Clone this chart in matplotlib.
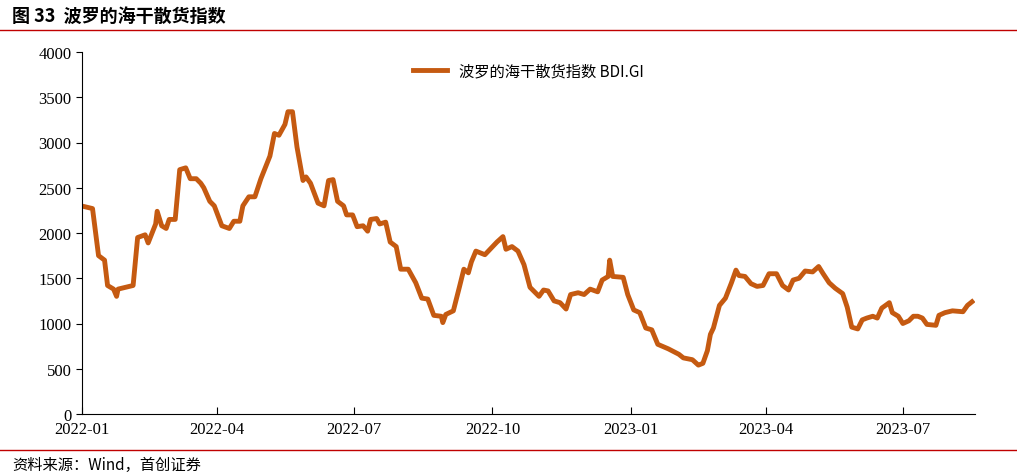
import matplotlib
matplotlib.use("Agg")
import matplotlib.pyplot as plt
import matplotlib.dates as mdates
import pandas as pd

# days since 2022-01-01 and BDI values
day_offsets = [2,7,11,15,17,21,23,24,34,37,42,44,49,50,53,56,58,62,65,69,72,76,79,81,85,88,93,98,101,105,107,111,115,119,125,128,131,135,137,140,143,147,149,152,157,161,164,167,170,174,176,180,183,187,190,192,196,198,202,205,209,212,217,222,226,230,234,239,240,242,247,251,254,257,259,262,268,276,280,282,286,290,294,298,304,307,310,314,318,322,325,330,334,338,343,346,350,351,353,360,363,367,371,375,379,383,390,397,400,406,410,413,416,418,420,424,428,432,435,437,441,445,449,453,457,462,466,470,473,477,481,486,490,493,497,501,506,509,512,516,519,522,526,529,532,537,539,543,546,550,553,556,559,562,568,570,574,579,586,589,592]
bdi = [2290,2270,1750,1700,1420,1380,1300,1380,1420,1950,1980,1890,2100,2240,2080,2050,2150,2150,2700,2720,2600,2600,2550,2500,2350,2300,2080,2050,2130,2130,2300,2400,2400,2600,2850,3100,3080,3200,3340,3340,2950,2580,2620,2550,2330,2300,2580,2590,2350,2300,2200,2200,2070,2080,2020,2150,2160,2100,2120,1900,1850,1600,1600,1450,1280,1270,1090,1080,1010,1100,1140,1400,1600,1560,1680,1800,1760,1900,1960,1820,1850,1800,1650,1400,1300,1370,1360,1250,1230,1160,1320,1340,1320,1380,1350,1480,1520,1700,1520,1510,1320,1150,1120,950,930,770,720,660,620,600,540,560,700,880,950,1200,1280,1450,1590,1530,1520,1440,1410,1420,1550,1550,1420,1370,1480,1500,1580,1570,1630,1550,1450,1390,1330,1180,960,940,1040,1060,1080,1060,1170,1230,1120,1080,1000,1030,1080,1080,1060,990,980,1090,1120,1140,1130,1200,1240]
tick_labels = ["2022-01","2022-04","2022-07","2022-10","2023-01","2023-04","2023-07"]
series_name = "波罗的海干散货指数 BDI.GI"

dates = pd.Timestamp("2022-01-01") + pd.to_timedelta(day_offsets, unit="D")
cjk = "Noto Sans CJK SC"
fig = plt.figure(figsize=(10.17, 4.77), dpi=100)
ax = fig.add_axes([82/1017, 1-415/477, (975-82)/1017, (415-53)/477])
ax.plot(dates, bdi, color="#C55A11", lw=3.5, label=series_name)
ax.set_ylim(0, 4000)
ax.set_yticks(range(0, 4001, 500))
ax.set_xlim(pd.Timestamp("2022-01-01"), dates[-1] + pd.Timedelta(days=2))
ax.set_xticks([pd.Timestamp(t + "-01") for t in tick_labels])
ax.set_xticklabels(tick_labels)
for s in ["top", "right"]:
    ax.spines[s].set_visible(False)
for lab in ax.get_xticklabels() + ax.get_yticklabels():
    lab.set_fontfamily("Liberation Serif"); lab.set_fontsize(12)
ax.tick_params(axis="x", direction="in", length=5, pad=5)
ax.tick_params(axis="y", direction="out", length=4)
leg = ax.legend(loc="upper center", frameon=False, prop={"family": cjk, "size": 11},
                bbox_to_anchor=(0.5, 1.01), handlelength=2.2)
fig.text(0.012, 0.965, "图 33  波罗的海干散货指数", fontfamily=cjk, fontsize=13, fontweight="bold", va="center")
fig.add_artist(plt.Line2D([0.0, 1.0], [1-31/477]*2, color="#C00000", lw=1))
fig.add_artist(plt.Line2D([0.0, 1.0], [1-451/477]*2, color="#C00000", lw=1))
fig.text(0.012, 1-465/477, "资料来源：Wind，首创证券", fontfamily=cjk, fontsize=11, style="italic", va="center")
fig.savefig("out.png", dpi=100)
